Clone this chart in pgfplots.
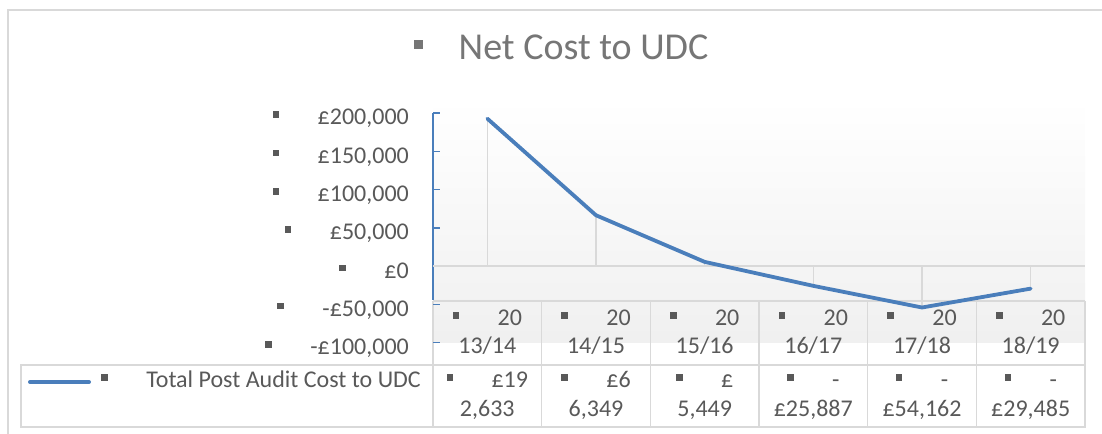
\documentclass[border=0pt]{standalone}
\usepackage{pgfplots}
\pgfplotsset{compat=1.18}
\usepackage{fontspec}
\setmainfont{Carlito}
\definecolor{txt}{HTML}{595959}
\definecolor{ttl}{HTML}{767676}
\definecolor{ln}{HTML}{4A7EBB}
\definecolor{bd}{HTML}{D9D9D9}
\newcommand\bul{\raisebox{7bp}{\textcolor{txt}{\rule{6.5bp}{6.5bp}}}\hspace{38.5bp}}
\newcommand\lf{\fontsize{24bp}{28bp}\selectfont}
\begin{document}
\begin{tikzpicture}[x=1bp,y=1bp]
\useasboundingbox (0,0) rectangle (1102,434);
% chart border
\draw[bd, line width=2bp] (8,-5) -- (8,424) -- (1110,424);
% plot area background
\shade[top color=white, bottom color=black!6] (433,334) rectangle (1085,91);
% data table grid
\draw[bd, line width=1.5bp] (433,133) -- (1085,133);
\draw[bd, line width=1.5bp] (21,69) rectangle (1085,7);
\foreach \i in {0,...,6} \draw[bd, line width=1.5bp] ({433+108.667*\i},133) -- ({433+108.667*\i},7);
% title
\node[anchor=base west, inner sep=0pt, text=ttl, font=\fontsize{38bp}{44bp}\selectfont] at (413.5,374)
  {\raisebox{10.5bp}{\rule{9bp}{9bp}}\hspace{36bp}Net Cost to UDC};
% legend key cell
\draw[ln, line width=4bp, line cap=round] (30,52) -- (89,52);
\node[anchor=base east, inner sep=0pt, text=txt, font=\lf] at (421,46) {\bul Total Post Audit Cost to UDC};
% data table values
\foreach \cx/\a/\b in {487.3/\pounds19/{2,633}, 596.0/\pounds6/{6,349}, 704.7/\pounds/{5,449}, 813.3/-/{\pounds25,887}, 922.0/-/{\pounds54,162}, 1030.7/-/{\pounds29,485}} {
  \node[anchor=base, inner sep=0pt, text=txt, font=\lf] at (\cx,46) {\bul\a};
  \node[anchor=base, inner sep=0pt, text=txt, font=\lf] at (\cx,17) {\b};
}
\begin{axis}[
  at={(433bp,91.4bp)}, anchor=south west,
  scale only axis, width=652bp, height=229.6bp,
  xmin=-0.5, xmax=5.5, ymin=-100000, ymax=200000,
  clip=false,
  axis line style={draw=none},
  scaled y ticks=false,
  ytick pos=left,
  ytick={-100000,-50000,0,50000,100000,150000,200000},
  yticklabels={{\bul-\pounds100,000}, {\bul-\pounds50,000}, {\bul\pounds0}, {\bul\pounds50,000}, {\bul\pounds100,000}, {\bul\pounds150,000}, {\bul\pounds200,000}},
  yticklabel style={anchor=base east, inner sep=0pt, xshift=-24bp, yshift=-12bp, font=\lf, text=txt},
  ytick style={ln, line width=1.5bp},
  tick align=inside,
  major tick length=7bp,
  xtick={0,1,2,3,4,5},
  xticklabels={{\bul 20\\13/14},{\bul 20\\14/15},{\bul 20\\15/16},{\bul 20\\16/17},{\bul 20\\17/18},{\bul 20\\18/19}},
  xticklabel style={anchor=north, align=center, inner sep=0pt, yshift=32.8bp, font=\lf, text=txt},
  xtick style={draw=none},
]
\draw[ln, line width=1.5bp] (axis cs:-0.5,200000) -- (axis cs:-0.5,-44386);
\draw[bd, line width=1.5bp] (axis cs:-0.5,0) -- (axis cs:5.5,0);
\addplot[ycomb, bd, line width=1.5bp, forget plot] coordinates {
  (0,192633) (1,66349) (2,5449) (3,-25887) (4,-54162) (5,-29485)};
\addplot[ln, line width=3.8bp, line join=round, line cap=round] coordinates {
  (0,192633) (1,66349) (2,5449) (3,-25887) (4,-54162) (5,-29485)};
\end{axis}
\end{tikzpicture}
\end{document}
